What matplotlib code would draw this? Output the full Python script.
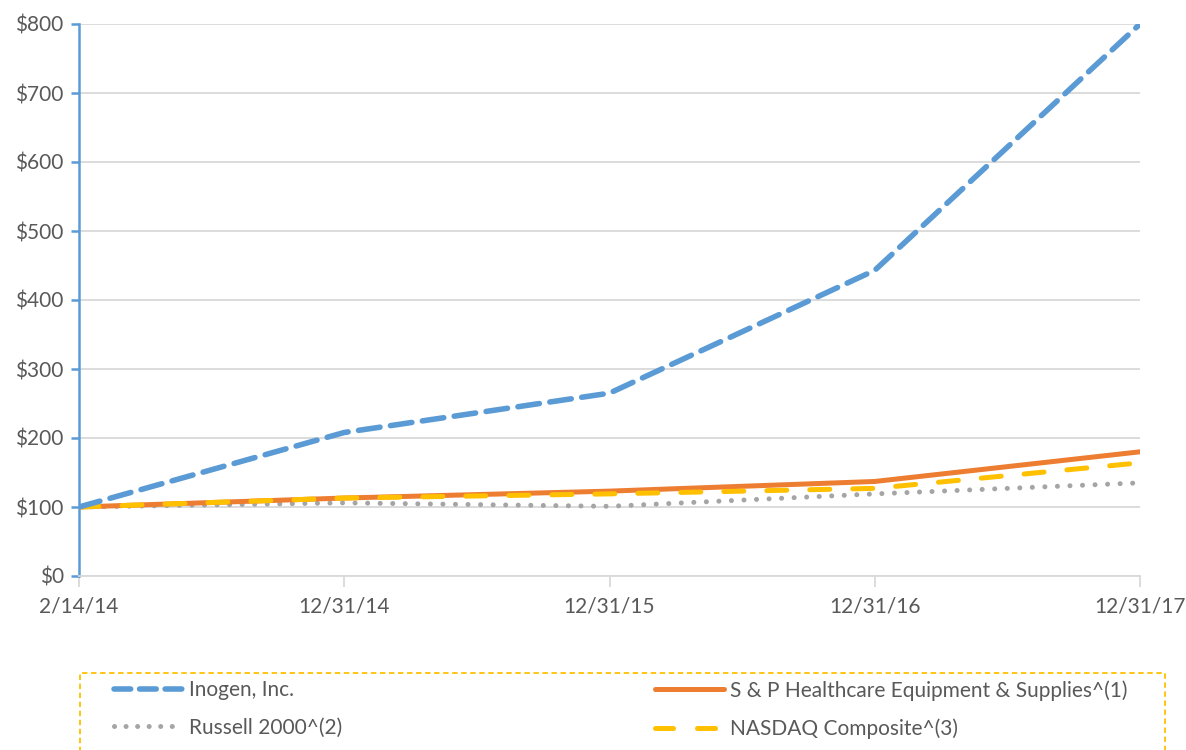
import matplotlib
matplotlib.use("Agg")
import matplotlib.pyplot as plt
from matplotlib.lines import Line2D
from matplotlib.patches import Rectangle

plt.rcParams['font.family'] = ['Lato', 'DejaVu Sans']

dates = ["2/14/14", "12/31/14", "12/31/15", "12/31/16", "12/31/17"]
inogen = [100, 208, 265, 443, 800]
sp_health = [100, 113, 123, 137, 180]
russell = [100, 106, 101, 119, 135]
nasdaq = [100, 113, 119, 127, 164]
yticks = [0, 100, 200, 300, 400, 500, 600, 700, 800]

W, H = 1186, 750
fig = plt.figure(figsize=(W / 100, H / 100), dpi=100)
ax = fig.add_axes([79 / W, 1 - 576 / H, (1140 - 79) / W, (576 - 24) / H])

x = list(range(len(dates)))
blue = "#5B9BD5"
orange = "#ED7D31"
gray = "#A5A5A5"
gold = "#FFC000"
txt = "#595959"

ax.plot(x, inogen, color=blue, lw=4.0, dashes=(3.9, 1.9), dash_capstyle='round', zorder=4)
ax.plot(x, sp_health, color=orange, lw=3.6, solid_capstyle='round', zorder=3)
ax.plot(x, russell, color=gray, lw=3.6, dashes=(0.01, 2.5), dash_capstyle='round', zorder=2)
ax.plot(x, nasdaq, color=gold, lw=3.6, dashes=(4.0, 4.6), dash_capstyle='round', zorder=3)

ax.set_xlim(0, 4)
ax.set_ylim(0, 800)
ax.set_yticks(yticks)
ax.set_yticklabels([f"${v}" for v in yticks])
ax.set_xticks(x)
ax.set_xticklabels(dates)
ax.yaxis.grid(True, color="#D9D9D9", lw=1.3)
ax.set_axisbelow(True)
for s in ['top', 'right']:
    ax.spines[s].set_visible(False)
ax.spines['left'].set_color(blue)
ax.spines['left'].set_linewidth(1.8)
ax.spines['bottom'].set_color("#D9D9D9")
ax.spines['bottom'].set_linewidth(1.3)
ax.tick_params(axis='y', colors=blue, length=6, width=1.8, labelcolor=txt, labelsize=15, pad=5)
ax.tick_params(axis='x', colors="#D9D9D9", length=8, width=1.3, labelcolor=txt, labelsize=15, pad=7)

# legend box
fig.patches.append(Rectangle((80 / W, -0.02), (1165 - 80) / W, 1 - 673 / H + 0.02,
                             transform=fig.transFigure, fill=False, edgecolor=gold,
                             lw=1.3, linestyle=(0, (3, 2)), zorder=0))

h1 = Line2D([0], [0], color=blue, lw=4.0, dashes=(3.0, 1.6), dash_capstyle='round')
h3 = Line2D([0], [0], color=gray, lw=3.6, dashes=(0.01, 2.3), dash_capstyle='round')
h2 = Line2D([0], [0], color=orange, lw=3.6, solid_capstyle='round')
h4 = Line2D([0], [0], color=gold, lw=3.6, dashes=(3.6, 4.8), dash_capstyle='round')

kw = dict(loc='upper left', frameon=False, handlelength=3.3, handletextpad=0.3,
          labelspacing=0.85, fontsize=15, labelcolor=txt, borderaxespad=0, borderpad=0)
fig.legend([h1, h3], ["Inogen, Inc.", "Russell 2000^(2)"],
           bbox_to_anchor=(114 / W, 1 - 680 / H), **kw)
fig.legend([h2, h4], ["S & P Healthcare Equipment & Supplies^(1)", "NASDAQ Composite^(3)"],
           bbox_to_anchor=(655 / W, 1 - 680 / H), **kw)

fig.savefig("out.png", dpi=100)
